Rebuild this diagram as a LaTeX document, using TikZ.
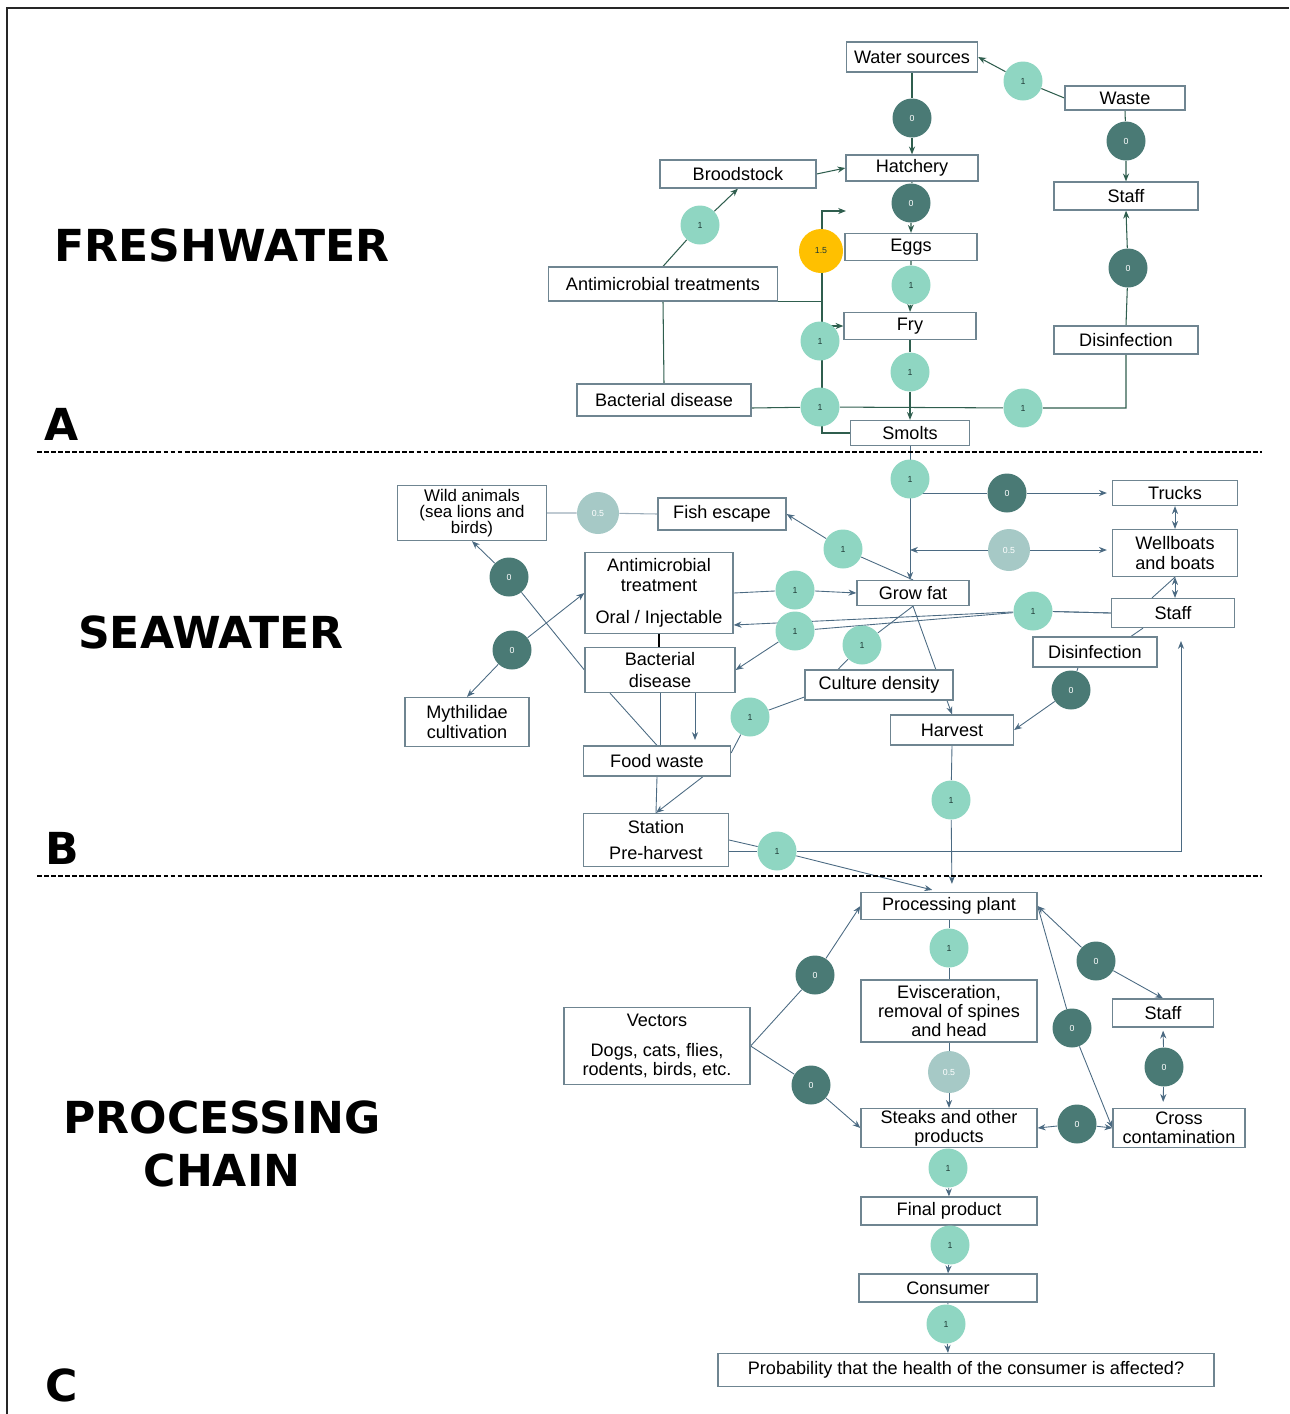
\documentclass[tikz,border=0pt]{standalone}
\usepackage{fontspec}
\setmainfont{Liberation Sans}
\newfontfamily\headfont{DejaVu Sans}
\usetikzlibrary{arrows.meta,calc}
\pgfdeclarelayer{bg}
\pgfsetlayers{bg,main}
\definecolor{lightc}{HTML}{8FD6C2}
\definecolor{darkc}{HTML}{4A7A75}
\definecolor{greyc}{HTML}{A6C9C6}
\definecolor{yelc}{HTML}{FFC000}
\definecolor{boxc}{HTML}{6F8591}
\definecolor{fwc}{HTML}{2F5E4E}
\definecolor{swc}{HTML}{4B6A82}
\definecolor{txtd}{HTML}{1E3A36}
\tikzset{
  box/.style 2 args={draw=boxc, fill=white, line width=0.7pt, minimum width=#1*0.02cm,
    minimum height=#2*0.02cm, inner sep=0pt, align=center,
    font=\fontsize{10.3}{11}\selectfont, text=black},
  cl/.style={circle, fill=lightc, minimum size=39*0.02cm, inner sep=0pt,
    font=\fontsize{5}{6}\selectfont, text=txtd},
  cd/.style={cl, fill=darkc, text=white},
  cg/.style={cl, fill=greyc, text=white, minimum size=42*0.02cm},
  cy/.style={cl, fill=yelc, minimum size=44*0.02cm},
  fwl/.style={draw=fwc, line width=0.6pt},
  swl/.style={draw=swc, line width=0.5pt},
  head/.style={font=\headfont\bfseries\fontsize{25.1}{30.6}\selectfont, align=center, inner sep=0pt},
  sepline/.style={draw=black, line width=0.8pt, dash pattern=on 2.8pt off 1.2pt},
  frameline/.style={draw=black!85, line width=1.1pt},
  >={Stealth[length=4.5pt,width=3.5pt]}
}
\begin{document}
\begin{tikzpicture}[x=0.02cm,y=-0.02cm]
\useasboundingbox (0,0) rectangle (1289,1414);
% frame and separators
\coordinate (fr1) at (7,1414);
\coordinate (fr2) at (7,8);
\coordinate (fr3) at (1289,8);
\draw[frameline] (fr1) -- (fr2) -- (fr3);
\coordinate (d1a) at (37,452);
\coordinate (d1b) at (1262,452);
\coordinate (d2a) at (37,876);
\coordinate (d2b) at (1262,876);
\draw[sepline] (d1a) -- (d1b);
\draw[sepline] (d2a) -- (d2b);
% headings
\node[head] (hfw) at (222,245) {FRESHWATER};
\node[head] (ha) at (62,424) {A};
\node[head] (hsw) at (211,632) {SEAWATER};
\node[head] (hb) at (62,848) {B};
\node[head] (hpc) at (222,1144) {PROCESSING\\CHAIN};
\node[head] (hc) at (62,1385) {C};

% ---------- FRESHWATER ----------
\node[box={131}{30}] (water) at (912,57) {Water sources};
\node[box={120}{24}] (waste) at (1125,98) {Waste};
\node[box={132}{26}] (hatch) at (912,168) {Hatchery};
\node[box={156}{28}] (brood) at (738,174) {Broodstock};
\node[box={144}{28}] (stafff) at (1126,196) {Staff};
\node[box={132}{27}] (eggs) at (911,247) {Eggs};
\node[box={229}{34}] (amtf) at (663,284) {Antimicrobial treatments};
\node[box={132}{27}] (fry) at (910,326) {Fry};
\node[box={144}{28}] (disf) at (1126,340) {Disinfection};
\node[box={174}{32}] (bactf) at (664,400) {Bacterial disease};
\node[box={119}{25}] (smolts) at (910,433) {Smolts};

\node[cl] (f1) at (1023,81) {1};
\node[cd] (f2) at (912,118) {0};
\node[cd] (f3) at (1126,141) {0};
\node[cd] (f4) at (911,203) {0};
\node[cl] (f5) at (700,225) {1};
\node[cy] (f6) at (821,251) {1.5};
\node[cl] (f7) at (911,285) {1};
\node[cd] (f8) at (1128,268) {0};
\node[cl] (f9) at (820,341) {1};
\node[cl] (f10) at (910,372) {1};
\node[cl] (f11) at (820,407) {1};
\node[cl] (f12) at (1023,408) {1};
\coordinate (vtop) at (822,211);
\coordinate (vtip) at (846,211);

% ---------- SEAWATER ----------
\node[box={125}{25}] (trucks) at (1175,493) {Trucks};
\node[box={125}{47}] (wellb) at (1175,553) {Wellboats\\and boats};
\node[box={123}{29}] (staffs) at (1173,613) {Staff};
\node[box={124}{30}] (diss) at (1095,652) {Disinfection};
\node[box={123}{30}] (harv) at (952,730) {Harvest};
\node[box={148}{30}] (cult) at (879,685) {Culture density};
\node[box={112}{25}] (grow) at (913,593) {Grow fat};
\node[box={149}{55}, font=\fontsize{9.6}{9.1}\selectfont] (wild) at (472,513) {Wild animals\\(sea lions and\\birds)};
\node[box={128}{32}] (fish) at (722,514) {Fish escape};
\node[box={148}{81}, font=\fontsize{10.3}{11.3}\selectfont] (amts) at (659,593) {Antimicrobial\\treatment\\[0.24cm]Oral / Injectable};
\node[box={150}{45}, font=\fontsize{10.3}{12.2}\selectfont] (bacts) at (660,670) {Bacterial\\disease};
\node[box={124}{49}, font=\fontsize{10.3}{11.6}\selectfont] (myth) at (467,722) {Mythilidae\\cultivation};
\node[box={147}{30}] (food) at (657,761) {Food waste};
\node[box={145}{53}] (station) at (656,840) {Station\\[0.13cm]Pre-harvest};

\node[cl] (s1) at (910,479) {1};
\node[cd] (s2) at (1007,493) {0};
\node[cg] (s3) at (1009,550) {0.5};
\node[cg] (s4) at (598,513) {0.5};
\node[cl] (s5) at (843,549) {1};
\node[cd] (s6) at (509,577) {0};
\node[cl] (s7) at (795,590) {1};
\node[cl] (s8) at (1033,611) {1};
\node[cl] (s9) at (795,631) {1};
\node[cl] (s10) at (862,645) {1};
\node[cd] (s11) at (512,650) {0};
\node[cd] (s12) at (1071,690) {0};
\node[cl] (s13) at (750,717) {1};
\node[cl] (s14) at (951,800) {1};
\node[cl] (s15) at (777,851) {1};
\coordinate (fwtip) at (695,740);
\coordinate (sttip) at (1181,641);

% ---------- PROCESSING CHAIN ----------
\node[box={176}{27}] (pp) at (949,906) {Processing plant};
\node[box={176}{62}] (evis) at (949,1011) {Evisceration,\\removal of spines\\and head};
\node[box={176}{39}] (steak) at (949,1128) {Steaks and other\\products};
\node[box={176}{28}] (final) at (949,1211) {Final product};
\node[box={178}{28}] (cons) at (948,1288) {Consumer};
\node[box={496}{33}] (prob) at (966,1370) {Probability that the health of the consumer is affected?};
\node[box={186}{77}] (vect) at (657,1046) {Vectors\\[0.2cm]Dogs, cats, flies,\\rodents, birds, etc.};
\node[box={101}{28}] (staffp) at (1163,1013) {Staff};
\node[box={132}{39}] (cross) at (1179,1128) {Cross\\contamination};

\node[cl] (p1) at (949,948) {1};
\node[cg] (p2) at (949,1072) {0.5};
\node[cl] (p3) at (948,1168) {1};
\node[cl] (p4) at (950,1245) {1};
\node[cl] (p5) at (946,1324) {1};
\node[cd] (p6) at (815,975) {0};
\node[cd] (p7) at (811,1085) {0};
\node[cd] (p8) at (1096,961) {0};
\node[cd] (p9) at (1072,1028) {0};
\node[cd] (p10) at (1164,1067) {0};
\node[cd] (p11) at (1077,1124) {0};

\begin{pgfonlayer}{bg}
% freshwater edges
\draw[fwl,->] (waste.west) -- (f1) -- (water.east);
\draw[fwl,->] (water.south) -- (f2) -- (hatch.north);
\draw[fwl,->] (waste.south) -- (f3) -- (stafff.north);
\draw[fwl,->] (brood.east) -- (hatch.west);
\draw[fwl,->] (hatch.south) -- (f4) -- (eggs.north);
\draw[fwl,->] (amtf.north) -- (f5) -- (brood.south);
\draw[fwl,->] (eggs.south) -- (f7) -- (fry.north);
\draw[fwl,->] (fry.south) -- (f10) -- (smolts.north);
\draw[fwl,->] (disf.north) -- (f8) -- (stafff.south);
\draw[fwl] (amtf.south) -- (bactf.north);
\draw[fwl,->] (smolts.west) -| (vtop) -- (vtip);
\draw[fwl,->] (vtop |- fry.west) -- (fry.west);
\draw[fwl] (amtf.south east) -- (amtf.south east -| vtop);
\draw[fwl] (bactf.east |- f12) -- (f11) -- (f12) -| (disf.south);

% seawater edges
\draw[swl,->] (smolts.south) -- (smolts.south |- grow.north);
\draw[swl,->,shorten >=0.1cm] (s1 |- s2) -- (s2) -- (trucks.west);
\draw[swl,->] (s3) -- (smolts.south |- s3);
\draw[swl,->,shorten >=0.1cm] (s3) -- (wellb.west |- s3);
\draw[swl,<->] (trucks.south) -- (wellb.north);
\draw[swl,<->] (wellb.south) -- (wellb.south |- staffs.north);
\draw[swl] ([xshift=-21*0.02cm]staffs.north) -- (wellb.south);
\draw[swl] ([xshift=-30*0.02cm]staffs.south) -- ([xshift=36*0.02cm]diss.north);
\draw[swl,->] ([xshift=-17*0.02cm]diss.south) -- (s12) -- (harv.east);
\draw[swl,->] (grow.north) -- (s5) -- (fish.east);
\draw[draw=swc!55, line width=0.6pt] (wild.east) -- (s4) -- (fish.west);
\draw[swl,->] (amts.east) -- (s7) -- (grow.west);
\draw[swl,->] (staffs.west) -- (s8) -- ([yshift=-32*0.02cm]amts.east);
\draw[swl,->] (staffs.west) -- (s8) -- (s9) -- (bacts.east);
\draw[swl] (grow.south) -- (s10) -- ([xshift=-41*0.02cm]cult.north);
\draw[swl,->] (grow.south) -- (harv.north);
\draw[swl] ([yshift=-12*0.02cm]cult.west) -- (s13) -- ([yshift=8*0.02cm]food.east);
\draw[swl,->] ([xshift=46*0.02cm]food.south) -- (station.north);
\draw[swl] (food.south) -- (station.north);
\draw[swl] (bacts.south) -- (bacts.south |- food.north);
\draw[swl] ([xshift=-50*0.02cm]bacts.south) -- (food.north);
\draw[swl,->] (bacts.south -| fwtip) -- (fwtip);
\draw[draw=black, line width=0.8pt] (amts.south) -- (amts.south |- bacts.north);
\draw[swl,->] (bacts.west) -- (s6) -- (wild.south);
\draw[swl,->] (s11) -- (myth.north);
\draw[swl,->] (s11) -- (amts.west);
\draw[swl,->] (station.east |- s15) -- (s15) -| (sttip);
\draw[swl,->,shorten >=0.16cm] (station.east) -- (s15) -- ([xshift=-9*0.02cm]pp.north);
\draw[swl,->,shorten >=0.16cm] (harv.south) -- (s14) -- (harv.south |- pp.north);

% processing chain edges
\draw[swl] (pp.south) -- (p1) -- (evis.north);
\draw[swl,->] (evis.south) -- (p2) -- (steak.north);
\draw[swl,->] (steak.south) -- (p3) -- (final.north);
\draw[swl,->] (final.south) -- (p4) -- (cons.north);
\draw[swl,->] (cons.south) -- (p5) -- (cons.south |- prob.north);
\draw[swl,->] (vect.east) -- (p6) -- (pp.west);
\draw[swl,->] (vect.east) -- (p7) -- (steak.west);
\draw[swl,->] (p8) -- (pp.east);
\draw[swl,->] (p8) -- (staffp.north);
\draw[swl,->] (pp.east) -- (p9) -- (cross.west);
\draw[swl,->,shorten >=0.06cm] (p10) -- (staffp.south);
\draw[swl,->,shorten >=0.12cm] (p10) -- (staffp.south |- cross.north);
\draw[swl,->] (p11) -- (steak.east);
\draw[swl,->] (p11) -- (cross.west);
\end{pgfonlayer}
\end{tikzpicture}
\end{document}
